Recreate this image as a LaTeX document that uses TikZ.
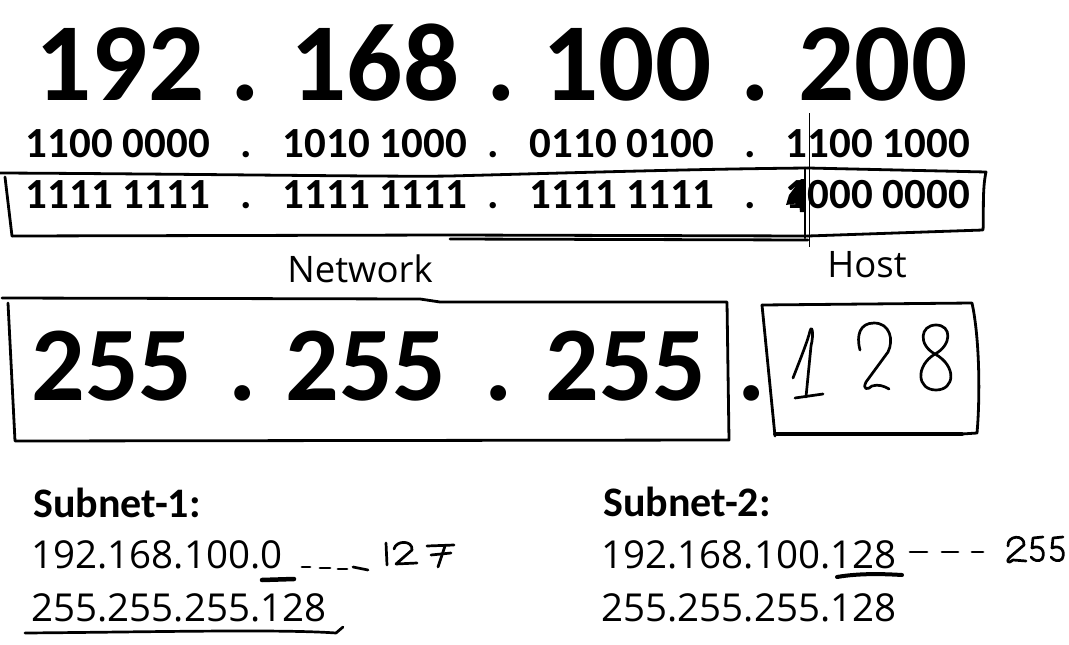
\documentclass[tikz,border=0pt]{standalone}
\usepackage{fontspec}
\setmainfont{Carlito}
\newfontfamily\osans{Open Sans}
\begin{document}
\begin{tikzpicture}[x=1pt,y=-1pt,
  big/.style={anchor=base,inner sep=0pt,font=\fontsize{111}{111}\selectfont\bfseries},
  bigb/.style={anchor=base,inner sep=0pt,font=\fontsize{106}{106}\selectfont\bfseries},
  bin/.style={anchor=base,inner sep=0pt,font=\fontsize{43}{43}\selectfont\bfseries},
  lbl/.style={anchor=base,inner sep=0pt,font=\osans\fontsize{36.5}{36.5}\selectfont},
  sub/.style={anchor=base,inner sep=0pt,font=\osans\fontsize{38.5}{38.5}\selectfont},
  subh/.style={anchor=base,inner sep=0pt,font=\fontsize{42}{42}\selectfont\bfseries},
  pen/.style={line width=2.8pt,line cap=round,line join=round},
  hand/.style={line width=2.7pt,line cap=round,line join=round},
]
\useasboundingbox (0,0) rectangle (1069,645);
% top address
\node[big] (ip1) at (120,100) {192};
\node[big] (ipd1) at (245,100) {.};
\node[big] (ip2) at (375,100) {168};
\node[big] (ipd2) at (501,100) {.};
\node[big] (ip3) at (627,100) {100};
\node[big] (ipd3) at (755,100) {.};
\node[big] (ip4) at (883,100) {200};
% binary rows
\node[bin] (b11) at (118,157) {1100 0000};
\node[bin] (b1d1) at (246,157) {.};
\node[bin] (b12) at (375,157) {1010 1000};
\node[bin] (b1d2) at (493,157) {.};
\node[bin] (b13) at (622,157) {0110 0100};
\node[bin] (b1d3) at (750,157) {.};
\node[bin] (b14) at (878,157) {1100 1000};
\node[bin] (b21) at (118,208) {1111 1111};
\node[bin] (b2d1) at (246,208) {.};
\node[bin] (b22) at (375,208) {1111 1111};
\node[bin] (b2d2) at (493,208) {.};
\node[bin] (b23) at (622,208) {1111 1111};
\node[bin] (b2d3) at (750,208) {.};
\node[bin] (b24) at (878,208) {1000 0000};
% binary boxes
\draw[pen] (0,173) .. controls (200,174) and (400,177) .. (450,176) .. controls (600,172) and (700,169) .. (808,168);
\draw[pen] (5,177) -- (12,236);
\draw[pen] (12,236) -- (450,235) -- (808,236);
\draw[pen] (450,239) -- (808,240);
\draw[pen] (805,168) -- (805,238);
\draw[pen] (808,168) -- (986,172) .. controls (982,190) and (984,215) .. (983,230) -- (808,236);
\draw[line width=1pt] (809,113) -- (809,247);
\fill (801,179) -- (789,195) -- (786,205) -- (799,203) -- (800,212) -- (805,212) -- (805,179) -- cycle;
% labels
\node[lbl] (net) at (360,282) {Network};
\node[lbl] (host) at (867,277) {Host};
% mask boxes
\draw[pen] (2,298) -- (420,299) -- (440,302) -- (727,302) -- (729,440) -- (15,441) -- (8,303);
\node[bigb] (m1) at (112,400) {255};
\node[bigb] (md1) at (243,400) {.};
\node[bigb] (m2) at (366,400) {255};
\node[bigb] (md2) at (499,400) {.};
\node[bigb] (m3) at (626,400) {255};
\node[bigb] (md3) at (752,400) {.};
\draw[pen] (762,305) -- (972,303) .. controls (980,340) and (980,400) .. (977,433) -- (962,434);
\draw[line width=3.8pt,line cap=round] (775,434) -- (962,434);
\draw[pen] (762,305) -- (775,436);
% handwritten 128
\draw[hand] (793,378) .. controls (800,360) and (808,340) .. (810,331) .. controls (812,324) and (814,334) .. (811,346) -- (806,397);
\draw[hand] (795,398) -- (823,394);
\draw[hand] (860,350) .. controls (856,335) and (860,323) .. (874,323) .. controls (890,323) and (894,340) .. (888,352) -- (866,382) .. controls (862,390) and (868,390) .. (872,386) .. controls (878,384) and (884,386) .. (889,389);
\draw[hand] (935,354) .. controls (918,345) and (920,325) .. (936,325) .. controls (952,325) and (952,345) .. (935,354) .. controls (915,366) and (917,390) .. (936,390) .. controls (955,390) and (957,366) .. (935,354);
% subnets
\node[subh] (s1) at (117,517) {Subnet-1:};
\node[sub] (s1a) at (157,568) {192.168.100.0};
\node[sub] (s1m) at (179,621) {255.255.255.128};
\node[subh] (s2) at (687,516) {Subnet-2:};
\node[sub] (s2a) at (749,568) {192.168.100.128};
\node[sub] (s2m) at (749,621) {255.255.255.128};
% subnet-1 marks
\draw[line width=4.5pt,line cap=round] (262,580) -- (294,579);
\draw[hand] (302,567) -- (310,567);
\draw[hand] (320,568) -- (330,568);
\draw[hand] (338,569) -- (347,569);
\draw[hand] (353,567) -- (368,570);
\draw[hand] (386,543) -- (387,565);
\draw[hand] (394,549) .. controls (396,540) and (413,540) .. (412,550) -- (396,564) -- (417,563);
\draw[hand] (427,546) -- (454,545);
\draw[hand] (431,555) -- (451,553);
\draw[hand] (445,546) -- (438,567);
\draw[hand] (25,633) .. controls (150,632) and (280,629) .. (336,633) -- (343,627);
% subnet-2 marks
\draw[line width=4pt,line cap=round] (837,577) .. controls (860,573) and (885,574) .. (902,575);
\draw[hand] (910,552) -- (927,552);
\draw[hand] (942,552) -- (958,552);
\draw[hand] (972,552) -- (983,552);
\draw[hand] (1008,546) .. controls (1007,535) and (1025,534) .. (1024,545) -- (1010,557) .. controls (1005,562) and (1009,564) .. (1013,560) -- (1026,561);
\draw[hand] (1043,537) -- (1033,538) -- (1032,548) .. controls (1041,544) and (1046,552) .. (1042,559) .. controls (1039,562) and (1034,561) .. (1031,557);
\draw[hand] (1063,537) -- (1053,538) -- (1052,548) .. controls (1061,544) and (1066,552) .. (1062,559) .. controls (1059,562) and (1054,561) .. (1051,557);
\end{tikzpicture}
\end{document}
